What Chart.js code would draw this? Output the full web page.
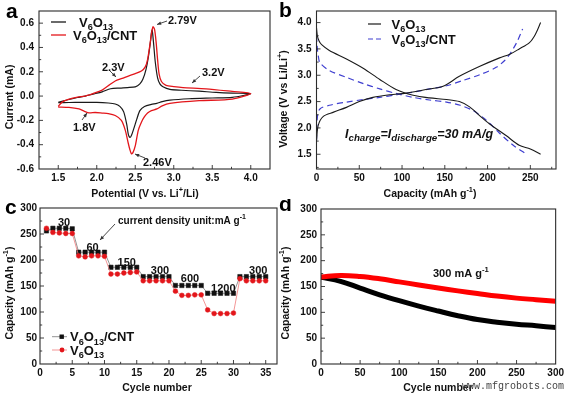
<!DOCTYPE html>
<html>
<head>
<meta charset="utf-8">
<script src="https://cdn.jsdelivr.net/npm/chart.js@4.4.1/dist/chart.umd.min.js"></script>
<style>
  html, body { margin: 0; padding: 0; background: #fff; }
  #fig { position: relative; width: 567px; height: 395px; overflow: hidden; background: #fff; }
  canvas { position: absolute; }
</style>
</head>
<body>
<div id="fig">
  <canvas id="chartA" width="283" height="199" style="left:0;top:0"></canvas>
  <canvas id="chartB" width="293" height="199" style="left:274px;top:0"></canvas>
  <canvas id="chartC" width="283" height="196" style="left:0;top:199px"></canvas>
  <canvas id="chartD" width="293" height="196" style="left:274px;top:199px"></canvas>
</div>
<script>
// (a) voltamperometría cíclica: barrido anódico 1.5 -> 4.0 V y vuelta catódica
const cvPotBare = [1.50, 1.57, 1.64, 1.75, 1.85, 1.95, 2.07, 2.18, 2.30, 2.40, 2.50, 2.56, 2.60, 2.64, 2.67, 2.70, 2.71, 2.72, 2.74, 2.76, 2.79, 2.82, 2.86, 2.95, 3.10, 3.33, 3.55, 3.76, 4.00,
  3.76, 3.50, 3.20, 2.95, 2.85, 2.78, 2.71, 2.62, 2.56, 2.52, 2.48, 2.45, 2.43, 2.41, 2.39, 2.35, 2.30, 2.24, 2.15, 2.00, 1.80, 1.64, 1.50];
const cvCurBare = [-0.052, -0.040, -0.028, -0.012, 0.000, 0.016, 0.035, 0.060, 0.066, 0.070, 0.076, 0.100, 0.140, 0.220, 0.320, 0.460, 0.520, 0.545, 0.420, 0.280, 0.150, 0.100, 0.076, 0.055, 0.048, 0.040, 0.030, 0.024, 0.020,
  -0.011, -0.016, -0.022, -0.033, -0.045, -0.060, -0.068, -0.085, -0.120, -0.190, -0.270, -0.325, -0.340, -0.315, -0.235, -0.130, -0.085, -0.065, -0.057, -0.052, -0.052, -0.053, -0.055];
const cvPotCnt = [1.50, 1.55, 1.64, 1.75, 1.85, 1.95, 2.07, 2.16, 2.24, 2.33, 2.41, 2.50, 2.58, 2.63, 2.66, 2.69, 2.71, 2.73, 2.75, 2.77, 2.79, 2.81, 2.84, 2.90, 3.00, 3.12, 3.42, 3.76, 4.00,
  3.76, 3.33, 2.95, 2.85, 2.78, 2.71, 2.66, 2.62, 2.58, 2.54, 2.50, 2.47, 2.45, 2.43, 2.41, 2.37, 2.32, 2.24, 2.15, 2.07, 1.98, 1.90, 1.84, 1.77, 1.64, 1.50];
const cvCurCnt = [-0.085, -0.050, -0.025, -0.008, 0.000, 0.020, 0.049, 0.090, 0.124, 0.145, 0.165, 0.185, 0.206, 0.240, 0.300, 0.420, 0.510, 0.570, 0.550, 0.450, 0.300, 0.180, 0.120, 0.088, 0.078, 0.070, 0.060, 0.038, 0.021,
  -0.025, -0.038, -0.060, -0.080, -0.106, -0.120, -0.140, -0.170, -0.215, -0.280, -0.410, -0.465, -0.475, -0.440, -0.390, -0.280, -0.200, -0.160, -0.145, -0.140, -0.135, -0.138, -0.125, -0.106, -0.093, -0.090];
const cvPotTicks = [1.5, 2.0, 2.5, 3.0, 3.5, 4.0];
const cvPotLabels = ['1.5', '2.0', '2.5', '3.0', '3.5', '4.0'];
const cvCurTicks = [-0.6, -0.4, -0.2, 0.0, 0.2, 0.4, 0.6];
const cvCurLabels = ['-0.6', '-0.4', '-0.2', '0.0', '0.2', '0.4', '0.6'];

// (b) curvas de carga / descarga a 30 mA/g
const disCapBare = [0, 1, 3, 6, 15, 35, 55, 74, 93, 113, 132, 152, 167, 179, 191, 202, 222, 237, 250, 262];
const disVoltBare = [3.90, 3.75, 3.65, 3.58, 3.47, 3.31, 3.13, 2.92, 2.73, 2.62, 2.57, 2.54, 2.50, 2.40, 2.23, 2.08, 1.85, 1.67, 1.60, 1.50];
const chgCapBare = [0, 2, 8, 20, 35, 50, 66, 86, 105, 125, 148, 167, 191, 214, 226, 237, 249, 256, 262];
const chgVoltBare = [1.76, 2.05, 2.22, 2.30, 2.39, 2.50, 2.58, 2.63, 2.66, 2.72, 2.79, 2.98, 3.17, 3.33, 3.40, 3.50, 3.62, 3.78, 4.00];
const disCapCnt = [0, 1, 2, 4, 15, 35, 55, 74, 94, 113, 132, 152, 168, 183, 199, 214, 230, 243];
const disVoltCnt = [3.75, 3.50, 3.38, 3.24, 3.09, 2.96, 2.84, 2.74, 2.65, 2.58, 2.53, 2.49, 2.43, 2.33, 2.14, 1.90, 1.67, 1.53];
const chgCapCnt = [0, 1, 4, 15, 35, 55, 74, 94, 113, 132, 152, 171, 191, 210, 220, 226, 234, 241];
const chgVoltCnt = [1.76, 2.20, 2.36, 2.43, 2.49, 2.54, 2.58, 2.63, 2.68, 2.74, 2.80, 2.90, 3.01, 3.15, 3.28, 3.40, 3.62, 3.88];
const gcdCapTicks = [0, 50, 100, 150, 200, 250];
const gcdCapLabels = ['0', '50', '100', '150', '200', '250'];
const gcdVoltTicks = [1.5, 2.0, 2.5, 3.0, 3.5, 4.0];
const gcdVoltLabels = ['1.5', '2.0', '2.5', '3.0', '3.5', '4.0'];

// (c) rendimiento a distintas densidades de corriente
const rateCycles = [1, 2, 3, 4, 5, 6, 7, 8, 9, 10, 11, 12, 13, 14, 15, 16, 17, 18, 19, 20, 21, 22, 23, 24, 25, 26, 27, 28, 29, 30, 31, 32, 33, 34, 35];
const rateCapCnt = [256, 261, 261, 261, 260, 215, 215, 215, 215, 215, 186, 186, 186, 186, 186, 168, 168, 168, 168, 168,
  151, 151, 151, 151, 151, 136, 136, 136, 136, 136, 168, 168, 168, 168, 168];
const rateCapBare = [261, 253, 252, 251, 251, 208, 206, 208, 208, 207, 173, 173, 175, 176, 177, 160, 160, 160, 160, 160,
  140, 132, 132, 133, 133, 104, 97, 97, 97, 98, 164, 160, 160, 160, 160];
const rateCycleTicks = [0, 5, 10, 15, 20, 25, 30, 35];
const rateCycleLabels = ['0', '5', '10', '15', '20', '25', '30', '35'];
const capTicks = [0, 50, 100, 150, 200, 250, 300];
const capLabels = ['0', '50', '100', '150', '200', '250', '300'];

// (d) ciclado a 300 mA/g
const lifeCycles = [0, 25, 50, 75, 100, 125, 150, 175, 200, 225, 250, 275, 300];
const lifeCapCnt = [168.5, 171.5, 169.5, 165, 159, 153, 147, 141.5, 136.5, 131.5, 127.5, 124.5, 121.5];
const lifeCapBare = [168, 160, 147, 134, 122.5, 112, 102.5, 93.5, 86, 81, 77, 74, 70.5];
const lifeCycleTicks = [0, 50, 100, 150, 200, 250, 300];
const lifeCycleLabels = ['0', '50', '100', '150', '200', '250', '300'];

const FONT = "'Liberation Sans', Arial, Helvetica, sans-serif";
Chart.defaults.font.family = FONT;
Chart.defaults.font.size = 10;
Chart.defaults.font.weight = 'bold';
Chart.defaults.color = '#111';

const RED = '#e3161b';

function pts(xs, ys) {
  return xs.map((x, i) => ({ x: x, y: ys[i] }));
}

// Texto con subíndices / superíndices
function drawRich(ctx, parts, x, y, size, opt) {
  opt = opt || {};
  const style = (opt.italic ? 'italic ' : '') + 'bold ';
  const seg = parts.map(p => {
    const kind = p[1] || '';
    const fs = kind ? size * (opt.small || 0.7) : size;
    ctx.font = style + fs + 'px ' + FONT;
    return { t: p[0], kind: kind, fs: fs, w: ctx.measureText(p[0]).width };
  });
  const total = seg.reduce((acc, s) => acc + s.w, 0);
  let cx = opt.align === 'center' ? x - total / 2 : x;
  const base = y + size * 0.36;
  ctx.fillStyle = opt.color || '#111';
  ctx.textAlign = 'left';
  ctx.textBaseline = 'alphabetic';
  seg.forEach(s => {
    ctx.font = style + s.fs + 'px ' + FONT;
    let by = base;
    if (s.kind === 'sub') by += size * 0.28;
    if (s.kind === 'sup') by -= size * 0.42;
    ctx.fillText(s.t, cx, by);
    cx += s.w;
  });
}

function drawRotated(ctx, parts, x, y, size) {
  ctx.save();
  ctx.translate(x, y);
  ctx.rotate(-Math.PI / 2);
  drawRich(ctx, parts, 0, 0, size, { align: 'center' });
  ctx.restore();
}

function line(ctx, x1, y1, x2, y2) {
  ctx.beginPath();
  ctx.moveTo(x1, y1);
  ctx.lineTo(x2, y2);
  ctx.stroke();
}

function arrow(ctx, x1, y1, x2, y2) {
  ctx.save();
  ctx.strokeStyle = '#333';
  ctx.fillStyle = '#333';
  ctx.lineWidth = 0.9;
  line(ctx, x1, y1, x2, y2);
  const ang = Math.atan2(y2 - y1, x2 - x1);
  ctx.beginPath();
  ctx.moveTo(x2, y2);
  ctx.lineTo(x2 - 4.5 * Math.cos(ang - 0.4), y2 - 4.5 * Math.sin(ang - 0.4));
  ctx.lineTo(x2 - 4.5 * Math.cos(ang + 0.4), y2 - 4.5 * Math.sin(ang + 0.4));
  ctx.closePath();
  ctx.fill();
  ctx.restore();
}

// Marcas hacia dentro, mayores y menores
function innerTicks(ctx, scale, area, horiz, major, minor) {
  const start = Math.ceil(scale.min / minor - 1e-9);
  const end = Math.floor(scale.max / minor + 1e-9);
  for (let k = start; k <= end; k++) {
    const v = k * minor;
    const isMajor = Math.abs(v / major - Math.round(v / major)) < 1e-6;
    const len = isMajor ? 4 : 2.2;
    const p = scale.getPixelForValue(v);
    if (horiz) {
      if (p <= area.left + 1 || p >= area.right - 1) continue;
      line(ctx, p, area.bottom, p, area.bottom - len);
    } else {
      if (p >= area.bottom - 1 || p <= area.top + 1) continue;
      line(ctx, area.left, p, area.left + len, p);
    }
  }
}

const V6O13 = [['V'], ['6', 'sub'], ['O'], ['13', 'sub']];
const CAP_TITLE = [['Capacity (mAh g'], ['-1', 'sup'], [')']];

function makeDeco(cfg) {
  return {
    id: 'deco' + cfg.name,
    afterDraw(chart) {
      const ctx = chart.ctx;
      const area = chart.chartArea;
      const xs = chart.scales.x;
      const ys = chart.scales.y;
      ctx.save();
      ctx.strokeStyle = '#2b2b2b';
      ctx.lineWidth = 1.1;
      ctx.strokeRect(area.left, area.top, area.right - area.left, area.bottom - area.top);
      ctx.lineWidth = 0.9;
      innerTicks(ctx, xs, area, true, cfg.xMajor, cfg.xMinor);
      innerTicks(ctx, ys, area, false, cfg.yMajor, cfg.yMinor);
      // letra del panel
      ctx.fillStyle = '#000';
      ctx.font = 'bold 21px ' + FONT;
      ctx.textAlign = 'left';
      ctx.textBaseline = 'alphabetic';
      ctx.fillText(cfg.letter[0], cfg.letter[1], cfg.letter[2]);
      drawRich(ctx, cfg.xTitle[0], cfg.xTitle[1], cfg.xTitle[2], 10.5, { align: 'center' });
      drawRotated(ctx, cfg.yTitle[0], cfg.yTitle[1], cfg.yTitle[2], 10.5);
      cfg.extra(ctx, chart);
      ctx.restore();
    }
  };
}

// Los textos de las marcas salen de los arrays de etiquetas
function setLabels(s, labels) {
  s.ticks.forEach((t, i) => { t.label = labels[i]; });
}

function xAxis(min, max, ticks, labels, height, pad) {
  return {
    type: 'linear', position: 'bottom', min: min, max: max,
    grid: { display: false, drawTicks: false }, border: { display: false },
    ticks: { padding: pad, autoSkip: false, maxRotation: 0 },
    afterBuildTicks: s => { s.ticks = ticks.map(v => ({ value: v })); },
    afterTickToLabelConversion: s => setLabels(s, labels),
    afterFit: s => { s.height = height; }
  };
}

function yAxis(min, max, ticks, labels, width, pad) {
  return {
    type: 'linear', position: 'left', min: min, max: max,
    grid: { display: false, drawTicks: false }, border: { display: false },
    ticks: { padding: pad, autoSkip: false },
    afterBuildTicks: s => { s.ticks = ticks.map(v => ({ value: v })); },
    afterTickToLabelConversion: s => setLabels(s, labels),
    afterFit: s => { s.width = width; }
  };
}

function baseOptions(pad, scales) {
  return {
    responsive: false, animation: false, events: [],
    layout: { padding: pad },
    plugins: { legend: { display: false }, tooltip: { enabled: false } },
    scales: scales
  };
}

// Panel a
new Chart(document.getElementById('chartA'), {
  type: 'scatter',
  data: {
    datasets: [
      { data: pts(cvPotCnt, cvCurCnt), showLine: true, borderColor: RED, borderWidth: 1.3, pointRadius: 0, tension: 0.25 },
      { data: pts(cvPotBare, cvCurBare), showLine: true, borderColor: '#1a1a1a', borderWidth: 1.2, pointRadius: 0, tension: 0.25 }
    ]
  },
  options: baseOptions({ left: 0, top: 10, right: 13, bottom: 0 }, {
    x: xAxis(1.25, 4.25, cvPotTicks, cvPotLabels, 30, 3),
    y: yAxis(-0.6, 0.7, cvCurTicks, cvCurLabels, 39, 5)
  }),
  plugins: [makeDeco({
    name: 'A', xMajor: 0.5, xMinor: 0.25, yMajor: 0.2, yMinor: 0.1,
    letter: ['a', 6, 18],
    xTitle: [[['Potential (V vs. Li'], ['+', 'sup'], ['/Li)']], 145, 193],
    yTitle: [[['Current (mA)']], 9, 97],
    extra(ctx) {
      ctx.lineWidth = 1.3;
      ctx.strokeStyle = '#1a1a1a';
      line(ctx, 51, 22, 66, 22);
      ctx.strokeStyle = RED;
      line(ctx, 51, 35, 66, 35);
      drawRich(ctx, V6O13, 79, 22, 13);
      drawRich(ctx, V6O13.concat([['/CNT']]), 73, 35, 13);
      const labels = [['2.79V', 168, 20], ['2.3V', 102, 67], ['3.2V', 202, 72], ['1.8V', 73, 127], ['2.46V', 143, 162]];
      labels.forEach(l => drawRich(ctx, [[l[0]]], l[1], l[2], 11));
      arrow(ctx, 167, 21, 157, 24.5);
      arrow(ctx, 110, 71, 116, 77);
      arrow(ctx, 200, 76, 192, 83);
      arrow(ctx, 82, 120, 87, 113);
      arrow(ctx, 145, 158, 135, 154);
    }
  })]
});

// Panel b
new Chart(document.getElementById('chartB'), {
  type: 'scatter',
  data: {
    datasets: [
      { data: pts(disCapBare, disVoltBare), showLine: true, borderColor: '#1a1a1a', borderWidth: 1.1, pointRadius: 0, tension: 0.3 },
      { data: pts(chgCapBare, chgVoltBare), showLine: true, borderColor: '#1a1a1a', borderWidth: 1.1, pointRadius: 0, tension: 0.3 },
      { data: pts(disCapCnt, disVoltCnt), showLine: true, borderColor: '#3f3fd0', borderWidth: 1.2, borderDash: [6, 4], pointRadius: 0, tension: 0.3 },
      { data: pts(chgCapCnt, chgVoltCnt), showLine: true, borderColor: '#3f3fd0', borderWidth: 1.2, borderDash: [6, 4], pointRadius: 0, tension: 0.3 }
    ]
  },
  options: baseOptions({ left: 0, top: 10, right: 11, bottom: 0 }, {
    x: xAxis(0, 280, gcdCapTicks, gcdCapLabels, 30, 3),
    y: yAxis(1.22, 4.22, gcdVoltTicks, gcdVoltLabels, 42.5, 5)
  }),
  plugins: [makeDeco({
    name: 'B', xMajor: 50, xMinor: 25, yMajor: 0.5, yMinor: 0.25,
    letter: ['b', 5, 17],
    xTitle: [CAP_TITLE, 156, 193],
    yTitle: [[['Voltage (V vs Li/Li'], ['+', 'sup'], [')']], 9, 99],
    extra(ctx) {
      ctx.lineWidth = 1.2;
      ctx.strokeStyle = '#1a1a1a';
      line(ctx, 94, 24, 107, 24);
      ctx.strokeStyle = '#3f3fd0';
      ctx.setLineDash([5, 3]);
      line(ctx, 94, 39, 107, 39);
      ctx.setLineDash([]);
      drawRich(ctx, V6O13, 117.5, 24, 13);
      drawRich(ctx, V6O13.concat([['/CNT']]), 117.5, 39, 13);
      drawRich(ctx, [['I'], ['charge', 'sub'], ['=I'], ['discharge', 'sub'], ['=30 mA/g']], 71, 133, 12.5, { italic: true, small: 0.78 });
    }
  })]
});

// Panel c
new Chart(document.getElementById('chartC'), {
  type: 'scatter',
  data: {
    datasets: [
      { data: pts(rateCycles, rateCapBare), showLine: true, borderColor: '#f07b7b', borderWidth: 0.8,
        pointStyle: 'circle', pointRadius: 2.4, pointBackgroundColor: RED, pointBorderColor: RED, pointBorderWidth: 0.5 },
      { data: pts(rateCycles, rateCapCnt), showLine: true, borderColor: '#777', borderWidth: 0.8,
        pointStyle: 'rect', pointRadius: 3.1, pointBackgroundColor: '#111', pointBorderColor: '#111', pointBorderWidth: 0.5 }
    ]
  },
  options: baseOptions({ left: 0, top: 9, right: 6, bottom: 0 }, {
    x: xAxis(0, 36.75, rateCycleTicks, rateCycleLabels, 31, 3),
    y: yAxis(0, 300, capTicks, capLabels, 40, 3)
  }),
  plugins: [makeDeco({
    name: 'C', xMajor: 5, xMinor: 2.5, yMajor: 50, yMinor: 25,
    letter: ['c', 5, 15],
    xTitle: [[['Cycle number']], 157, 188.5],
    yTitle: [CAP_TITLE, 9, 94],
    extra(ctx) {
      ctx.lineWidth = 0.8;
      ctx.strokeStyle = '#777';
      line(ctx, 52, 137.7, 67, 137.7);
      ctx.fillStyle = '#111';
      ctx.fillRect(59.5, 135.5, 4.4, 4.4);
      ctx.strokeStyle = '#f07b7b';
      line(ctx, 52, 151, 67, 151);
      ctx.fillStyle = RED;
      ctx.beginPath();
      ctx.arc(62, 151, 2.4, 0, Math.PI * 2);
      ctx.fill();
      drawRich(ctx, V6O13.concat([['/CNT']]), 70, 137.7, 13);
      drawRich(ctx, V6O13, 70, 151, 13);
      const rates = [['30', 64, 23], ['60', 92.5, 48], ['150', 126.7, 63], ['300', 160, 71], ['600', 190, 79.5], ['1200', 223.3, 89], ['300', 258.3, 71]];
      rates.forEach(r => drawRich(ctx, [[r[0]]], r[1], r[2], 11, { align: 'center' }));
      drawRich(ctx, [['current density unit:mA g'], ['-1', 'sup']], 118, 21, 10);
      arrow(ctx, 115, 25, 100, 41);
    }
  })]
});

// Panel d
new Chart(document.getElementById('chartD'), {
  type: 'scatter',
  data: {
    datasets: [
      { data: pts(lifeCycles, lifeCapCnt), showLine: true, borderColor: '#ff0000', borderWidth: 5, pointRadius: 0, tension: 0.4 },
      { data: pts(lifeCycles, lifeCapBare), showLine: true, borderColor: '#000', borderWidth: 5, pointRadius: 0, tension: 0.4 }
    ]
  },
  options: baseOptions({ left: 0, top: 9, right: 11, bottom: 0 }, {
    x: xAxis(0, 300, lifeCycleTicks, lifeCycleLabels, 31, 3),
    y: yAxis(0, 300, capTicks, capLabels, 47, 4)
  }),
  plugins: [makeDeco({
    name: 'D', xMajor: 50, xMinor: 25, yMajor: 50, yMinor: 25,
    letter: ['d', 5, 12],
    xTitle: [[['Cycle number']], 164, 188.5],
    yTitle: [CAP_TITLE, 11, 94],
    extra(ctx) {
      drawRich(ctx, [['300 mA g'], ['-1', 'sup']], 159, 74, 11);
      ctx.font = "10px 'Liberation Mono', 'DejaVu Sans Mono', monospace";
      ctx.fillStyle = '#444';
      ctx.textAlign = 'left';
      ctx.textBaseline = 'alphabetic';
      ctx.fillText('www.mfgrobots.com', 188, 190);
    }
  })]
});
</script>
</body>
</html>
